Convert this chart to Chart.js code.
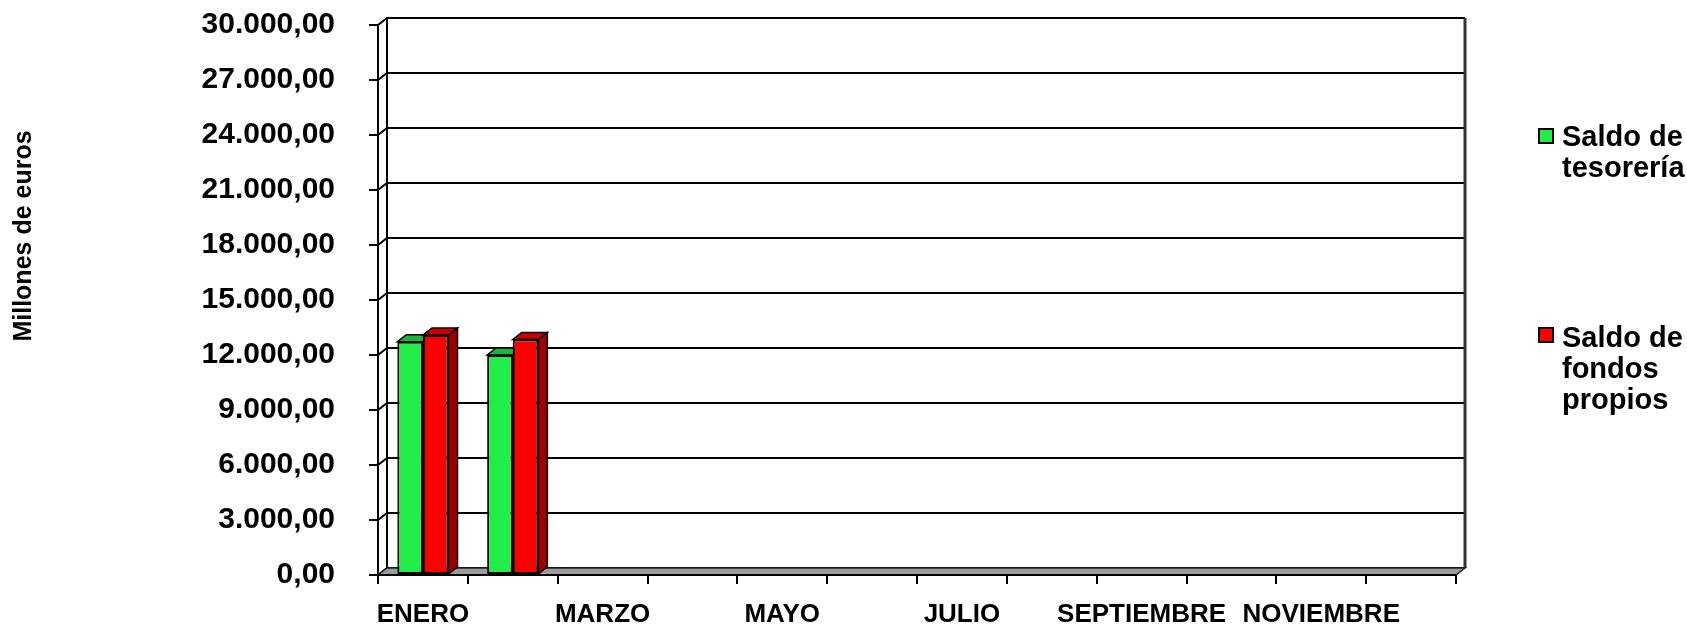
<!DOCTYPE html>
<html>
<head>
<meta charset="utf-8">
<script src="https://cdn.jsdelivr.net/npm/chart.js@4.4.1/dist/chart.umd.min.js"></script>
<style>
html,body{margin:0;padding:0;background:#fff;}
#wrap{width:1687px;height:626px;position:relative;}
</style>
</head>
<body>
<div id="wrap"><canvas id="c" width="1687" height="626"></canvas></div>
<script>
const months = ['ENERO','FEBRERO','MARZO','ABRIL','MAYO','JUNIO','JULIO','AGOSTO','SEPTIEMBRE','OCTUBRE','NOVIEMBRE','DICIEMBRE'];
const saldoTesoreria = [12725, 12000, null, null, null, null, null, null, null, null, null, null];
const saldoFondosPropios = [13090, 12850, null, null, null, null, null, null, null, null, null, null];
const seriesNames = [['Saldo de','tesorería'], ['Saldo de','fondos','propios']];
const yTitle = 'Millones de euros';
const yMin = 0, yMax = 30000, yStep = 3000;

const FONT = "'Liberation Sans', Arial, sans-serif";
const DX = 9, DY = -7;
const frontColors = ['#22EE4A', '#FF0000'];
const topColors = ['#1CB43A', '#C80000'];
const sideColors = ['#159A2E', '#A00000'];

function fmt(v){
  const s = Math.round(v).toString().replace(/\B(?=(\d{3})+(?!\d))/g, '.');
  return s + ',00';
}

function poly(ctx, pts, fill, stroke, lw){
  ctx.beginPath();
  ctx.moveTo(pts[0][0], pts[0][1]);
  for (let i = 1; i < pts.length; i++) ctx.lineTo(pts[i][0], pts[i][1]);
  ctx.closePath();
  if (fill){ ctx.fillStyle = fill; ctx.fill(); }
  if (stroke){ ctx.strokeStyle = stroke; ctx.lineWidth = lw || 1.5; ctx.stroke(); }
}

const threeD = {
  id: 'threeD',
  beforeDatasetsDraw(chart){
    const ctx = chart.ctx;
    const {left, right, top, bottom} = chart.chartArea;
    const ys = chart.scales.y;
    ctx.save();
    ctx.lineJoin = 'miter';
    ctx.fillStyle = '#fff';
    ctx.fillRect(left + DX, top + DY, right - left, bottom - top);
    ctx.strokeStyle = '#000';
    ctx.lineWidth = 2;
    ys.ticks.forEach(t => {
      const py = ys.getPixelForValue(t.value);
      ctx.beginPath();
      ctx.moveTo(left, py);
      ctx.lineTo(left + DX, py + DY);
      ctx.lineTo(right + DX, py + DY);
      ctx.stroke();
    });
    ctx.beginPath();
    ctx.moveTo(left + DX, top + DY);
    ctx.lineTo(left + DX, bottom + DY);
    ctx.stroke();
    ctx.strokeStyle = '#333';
    ctx.lineWidth = 3;
    ctx.beginPath();
    ctx.moveTo(right + DX, top + DY);
    ctx.lineTo(right + DX, bottom + DY);
    ctx.stroke();
    poly(ctx, [[left, bottom], [right, bottom], [right + DX, bottom + DY], [left + DX, bottom + DY]], '#9C9C9C', '#222', 1.5);
    ctx.strokeStyle = '#000';
    ctx.lineWidth = 2;
    ctx.beginPath();
    ctx.moveTo(left - 9, bottom);
    ctx.lineTo(right, bottom);
    ctx.stroke();
    chart.data.datasets.forEach((ds, di) => {
      const meta = chart.getDatasetMeta(di);
      meta.data.forEach((el, i) => {
        if (ds.data[i] == null) return;
        const p = el.getProps(['x', 'y', 'base', 'width'], true);
        const l = p.x - p.width / 2, r = p.x + p.width / 2;
        const yt = p.y, yb = p.base;
        poly(ctx, [[r, yt], [r + DX, yt + DY], [r + DX, yb + DY], [r, yb]], sideColors[di], '#000', 1.5);
        poly(ctx, [[l, yt], [r, yt], [r + DX, yt + DY], [l + DX, yt + DY]], topColors[di], '#000', 1.5);
      });
    });
    ctx.restore();
  },
  afterDraw(chart){
    const ctx = chart.ctx;
    ctx.save();
    ctx.fillStyle = '#000';
    ctx.font = 'bold 25px ' + FONT;
    ctx.translate(24, 236);
    ctx.rotate(-Math.PI / 2);
    ctx.textAlign = 'center';
    ctx.textBaseline = 'middle';
    ctx.fillText(yTitle, 0, 0);
    ctx.restore();
    ctx.save();
    const entries = [
      {box: 128, base: [146, 177]},
      {box: 327, base: [347, 378, 409]}
    ];
    ctx.font = 'bold 29px ' + FONT;
    ctx.textAlign = 'left';
    ctx.textBaseline = 'alphabetic';
    entries.forEach((e, k) => {
      ctx.fillStyle = frontColors[k];
      ctx.fillRect(1539, e.box + 1, 14, 14);
      ctx.strokeStyle = '#000';
      ctx.lineWidth = 2;
      ctx.strokeRect(1539, e.box + 1, 14, 14);
      ctx.fillStyle = '#000';
      seriesNames[k].forEach((line, j) => ctx.fillText(line, 1562, e.base[j]));
    });
    ctx.restore();
  }
};

new Chart(document.getElementById('c'), {
  type: 'bar',
  data: {
    labels: months,
    datasets: [
      {label: 'Saldo de tesorería', data: saldoTesoreria, backgroundColor: frontColors[0], borderColor: '#000', borderWidth: 2, borderSkipped: false},
      {label: 'Saldo de fondos propios', data: saldoFondosPropios, backgroundColor: frontColors[1], borderColor: '#000', borderWidth: 2, borderSkipped: false}
    ]
  },
  options: {
    responsive: false,
    animation: false,
    devicePixelRatio: 1,
    layout: {padding: {left: 0, top: 25, right: 231, bottom: 0}},
    datasets: {bar: {categoryPercentage: 0.57, barPercentage: 1.0}},
    plugins: {legend: {display: false}, tooltip: {enabled: false}, title: {display: false}},
    scales: {
      x: {
        offset: true,
        grid: {display: true, drawOnChartArea: false, drawTicks: true, tickLength: 9, color: '#000', lineWidth: 2, offset: true},
        border: {display: true, color: '#000', width: 2},
        ticks: {
          autoSkip: false, maxRotation: 0, minRotation: 0, padding: 15,
          color: '#000', font: {family: FONT, size: 26, weight: 'bold'},
          callback: function(v, i){ return i % 2 === 0 ? months[i] : ''; }
        },
        afterFit(scale){ scale.height = 51; scale.paddingLeft = 0; scale.paddingRight = 0; }
      },
      y: {
        min: yMin, max: yMax,
        grid: {display: true, drawOnChartArea: false, drawTicks: true, tickLength: 9, color: '#000', lineWidth: 2},
        border: {display: true, color: '#000', width: 2},
        ticks: {
          stepSize: yStep, padding: 34, color: '#000',
          font: {family: FONT, size: 30, weight: 'bold'},
          callback: v => fmt(v)
        },
        afterFit(scale){ scale.width = 378; scale.paddingTop = 0; scale.paddingBottom = 0; }
      }
    }
  },
  plugins: [threeD]
});
</script>
</body>
</html>
